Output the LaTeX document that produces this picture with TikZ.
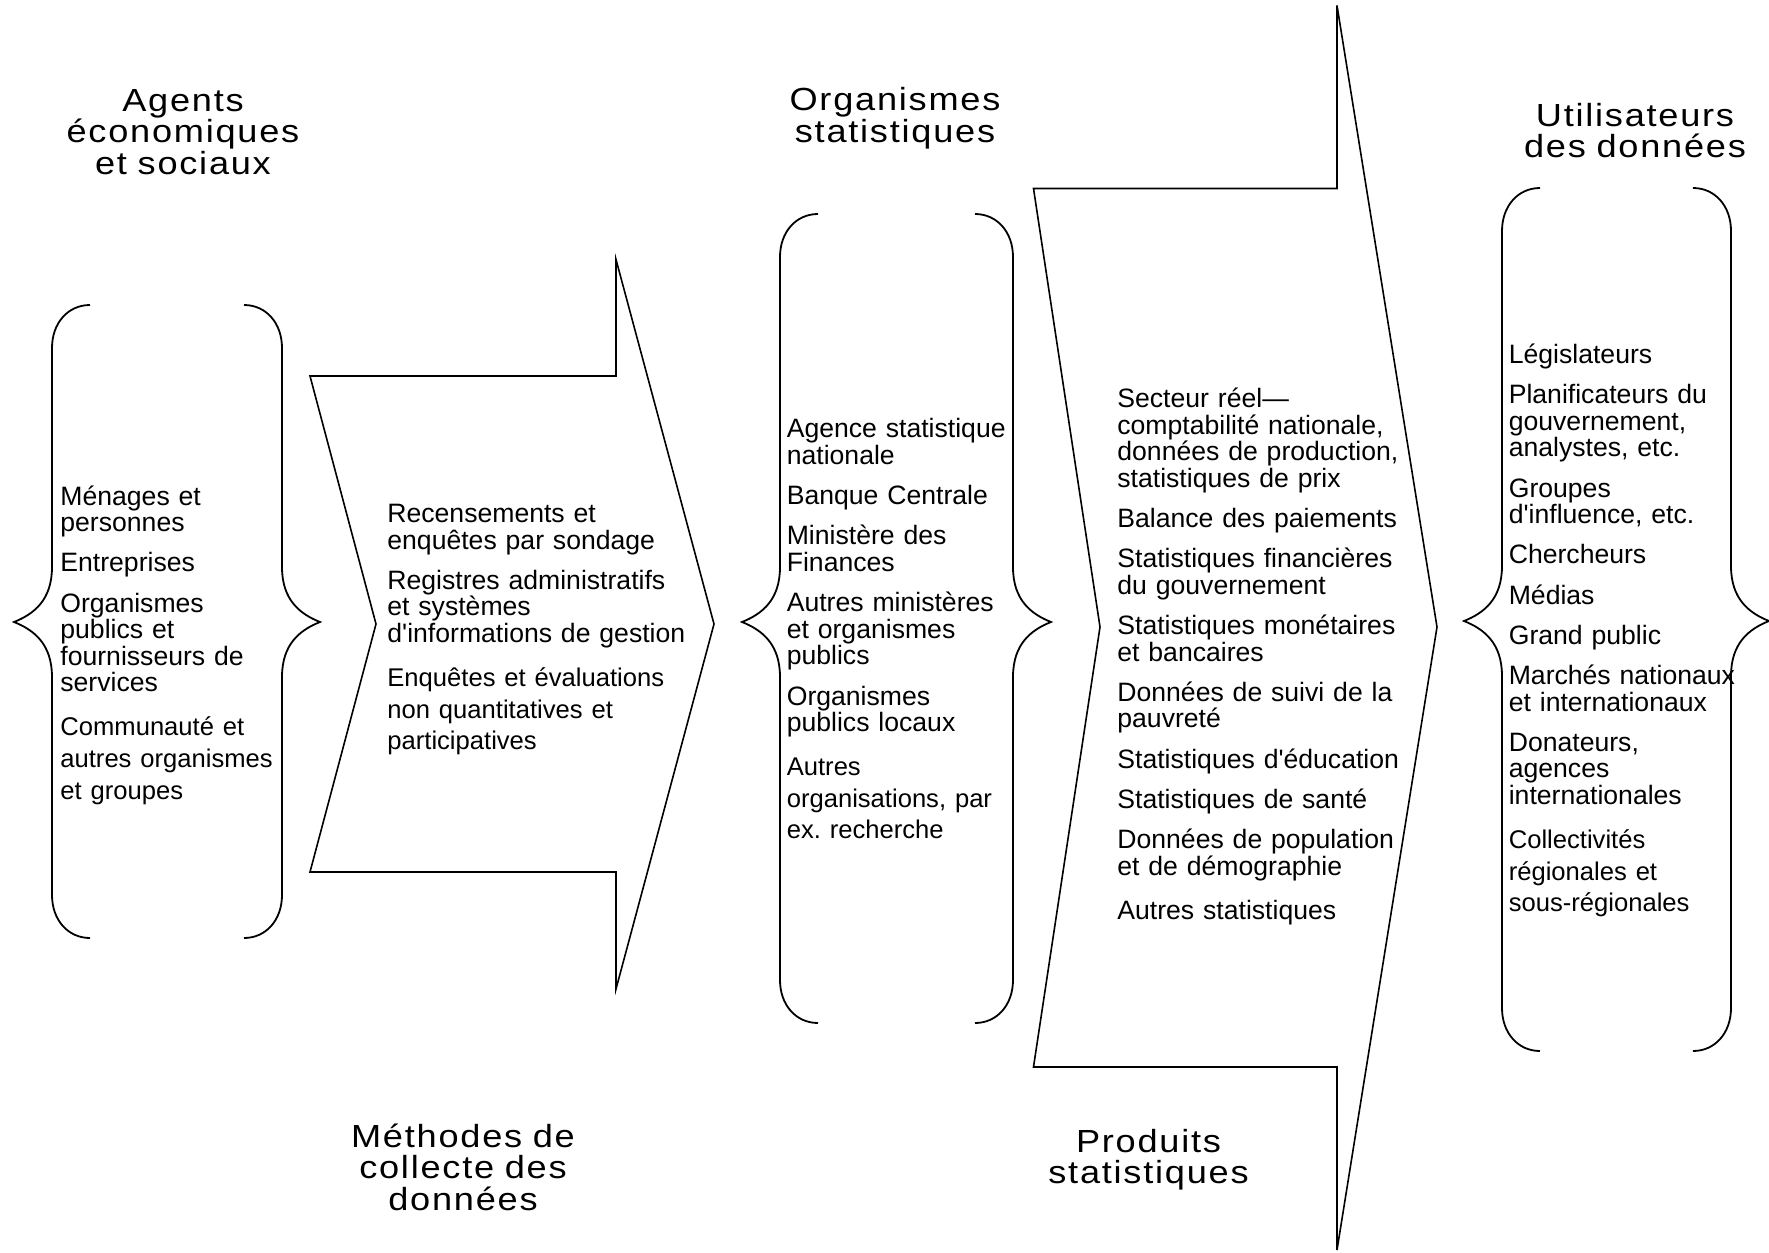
\documentclass[tikz,border=0pt]{standalone}
\usepackage{fontspec}
\setmainfont{Liberation Sans}
\newfontfamily\titrefont[FakeStretch=1.13,LetterSpace=5.5]{Liberation Sans}
\newcommand{\petit}{\fontsize{12.8}{13.3}\selectfont}
\frenchspacing

% curly brace: x, top, bottom, tip y, side (1 = opens right, -1 = opens left)
\newcommand{\accolade}[5]{%
  \draw[brace line] ({#1+(#5)*38},#2) .. controls ({#1+(#5)*16},#2) and (#1,{#2+18}) .. (#1,{#2+43})
    -- (#1,{#4-55}) .. controls (#1,{#4-22}) and ({#1-(#5)*18},{#4-8}) .. ({#1-(#5)*38},#4)
    .. controls ({#1-(#5)*18},{#4+8}) and (#1,{#4+22}) .. (#1,{#4+55})
    -- (#1,{#3-43}) .. controls (#1,{#3-18}) and ({#1+(#5)*16},#3) .. ({#1+(#5)*38},#3);
}

\begin{document}
\begin{tikzpicture}[
        x=0.5pt, y=-0.5pt,
        titre/.style={anchor=base, inner sep=0pt, text width=150pt, align=center,
            font=\titrefont\fontsize{16}{15.8}\selectfont},
        liste/.style={anchor=base west, inner sep=0pt, text width=170pt, align=left,
            font=\fontsize{13.3}{13.3}\selectfont},
        contour/.style={draw, line width=0.8pt, line join=miter},
        brace line/.style={line width=0.9pt}
    ]
    \useasboundingbox (0,0) rectangle (1769,1253);

    % Big arrows
    \draw[contour] (310,376) -- (616,376) -- (616,259.5) -- (714,624) -- (616,989)
        -- (616,872) -- (310,872) -- (376,624) -- cycle;
    \draw[contour] (1033.5,188.5) -- (1337,188.5) -- (1337,5.5) -- (1437,627) -- (1337,1250)
        -- (1337,1067) -- (1033.5,1067) -- (1100,627) -- cycle;

    % Braces
    \accolade{52}{305}{938}{622}{1}
    \accolade{282}{305}{938}{622}{-1}
    \accolade{780}{214}{1023}{622}{1}
    \accolade{1013}{214}{1023}{622}{-1}
    \accolade{1502}{188}{1051}{621}{1}
    \accolade{1731}{188}{1051}{621}{-1}

    % Titles
    \node[titre] (T1) at (183,111) {Agents\\économiques\\et sociaux};
    \node[titre] (T2) at (463,1147) {Méthodes de\\collecte des\\données};
    \node[titre] (T3) at (895,110.5) {Organismes\\statistiques};
    \node[titre] (T4) at (1148.5,1152) {Produits\\statistiques};
    \node[titre] (T5) at (1635,126.3) {Utilisateurs\\des données};

    % Lists
    \node[liste] (L1) at (60,505) {Ménages et\\personnes\\[6.8pt]
        Entreprises\\[6.8pt]
        Organismes\\publics et\\fournisseurs de\\services\\[8.7pt]
        \petit Communauté et\\[2.5pt]autres organismes\\[2.5pt]et groupes};
    \node[liste] (L2) at (387,522.5) {Recensements et\\enquêtes par sondage\\[6.8pt]
        Registres administratifs\\et systèmes\\d\textquotesingle informations de gestion\\[8.7pt]
        \petit Enquêtes et évaluations\\[2.5pt]non quantitatives et\\[2.5pt]participatives};
    \node[liste] (L3) at (786.4,437.8) {Agence statistique\\nationale\\[6.8pt]
        Banque Centrale\\[6.8pt]
        Ministère des\\Finances\\[6.8pt]
        Autres ministères\\et organismes\\publics\\[6.8pt]
        Organismes\\publics locaux\\[8.7pt]
        \petit Autres\\[2.5pt]organisations, par\\[2.5pt]ex. recherche};
    \node[liste] (L4) at (1117,407.4) {Secteur réel—\\comptabilité nationale,\\données de production,\\statistiques de prix\\[6.8pt]
        Balance des paiements\\[6.8pt]
        Statistiques financières\\du gouvernement\\[6.8pt]
        Statistiques monétaires\\et bancaires\\[6.8pt]
        Données de suivi de la\\pauvreté\\[6.8pt]
        Statistiques d\textquotesingle éducation\\[6.8pt]
        Statistiques de santé\\[6.8pt]
        Données de population\\et de démographie\\[8.7pt]
        Autres statistiques};
    \node[liste] (L5) at (1508.4,363.4) {Législateurs\\[6.8pt]
        Planificateurs du\\gouvernement,\\analystes, etc.\\[6.8pt]
        Groupes\\d\textquotesingle influence, etc.\\[6.8pt]
        Chercheurs\\[6.8pt]
        Médias\\[6.8pt]
        Grand public\\[6.8pt]
        Marchés nationaux\\et internationaux\\[6.8pt]
        Donateurs,\\agences\\internationales\\[8.7pt]
        \petit Collectivités\\[2.5pt]régionales et\\[2.5pt]sous-régionales};

\end{tikzpicture}
\end{document}
